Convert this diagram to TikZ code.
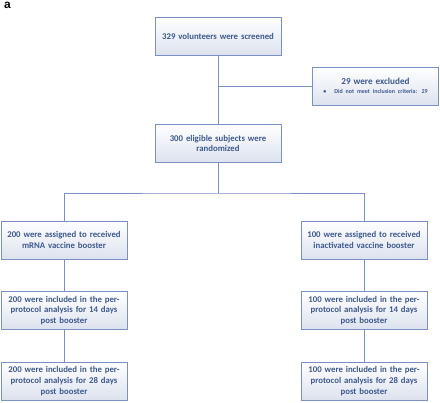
\documentclass[tikz,border=0pt]{standalone}
\usepackage{fontspec}
\setmainfont{Carlito}
\newfontfamily\labelfont{Liberation Sans}
\usetikzlibrary{positioning}
\definecolor{boxline}{HTML}{7A91C3}
\definecolor{boxtext}{HTML}{3D5A8E}
\definecolor{boxfill}{HTML}{DCE2EE}

\begin{document}
\begin{tikzpicture}[node distance=70.5bp,on grid,
	box/.style={draw=boxline,line width=0.9pt,top color=white,bottom color=boxfill,
		minimum width=126bp,minimum height=38bp,text width=124bp,align=center,
		inner sep=0pt,text=boxtext,font=\bfseries\fontsize{8.8}{10.7}\selectfont},
	link/.style={draw=boxline,line width=0.9pt}]
	\useasboundingbox (0,0) rectangle (440bp,-403bp);
	\node[font=\labelfont\bfseries\fontsize{12}{12}\selectfont] (tag) at (7.5bp,-5bp) {a};

	\node[box] (screen) at (218bp,-36bp) {329 volunteers were screened};
	\node[box] (excl) [below right=50bp and 157.5bp of screen]
		{\fontsize{9.2}{10}\selectfont 29 were excluded\\[-1pt]
		{\fontsize{6}{7}\selectfont\textbullet\hspace{8bp}Did not meet inclusion criteria: 29}\\[1pt]};
	\node[box] (rand) [below=107.5bp of screen] {300 eligible subjects were\\randomized};
	\coordinate[below=49.5bp of rand] (split);

	\node[box] (mrna_1) [below left=96.5bp and 154bp of rand] {200 were assigned to received\\mRNA vaccine booster};
	\node[box] (mrna_2) [below=of mrna_1] {200 were included in the per-\\protocol analysis for 14 days\\post booster};
	\node[box] (mrna_3) [below=of mrna_2] {200 were included in the per-\\protocol analysis for 28 days\\post booster};

	\node[box] (inact_1) [right=300bp of mrna_1] {100 were assigned to received\\inactivated vaccine booster};
	\node[box] (inact_2) [below=of inact_1] {100 were included in the per-\\protocol analysis for 14 days\\post booster};
	\node[box] (inact_3) [below=of inact_2] {100 were included in the per-\\protocol analysis for 28 days\\post booster};

	\path[link]
	(screen) edge (rand)
	(excl.west) edge (excl.west -| screen)
	(rand) edge (split)
	(mrna_1) edge (mrna_2)
	(mrna_2) edge (mrna_3)
	(inact_1) edge (inact_2)
	(inact_2) edge (inact_3);
	\draw[link] (mrna_1.north) |- (split) -| (inact_1.north);

\end{tikzpicture}
\end{document}
